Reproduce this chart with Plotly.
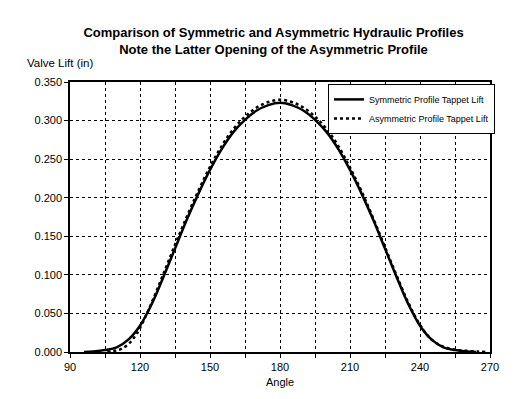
import plotly.graph_objects as go

# Symmetric profile (angle in degrees, lift in inches)
sym_angle = [96, 100, 105, 110, 115, 120, 125, 130, 135, 140, 145, 150, 155, 160, 165, 170, 175, 180,
             185, 190, 195, 200, 205, 210, 215, 220, 225, 230, 235, 240, 245, 250, 255, 260, 264]
sym_lift = [0.0, 0.0007, 0.0025, 0.006, 0.016, 0.034, 0.062, 0.097, 0.134, 0.171, 0.205, 0.236, 0.263,
            0.285, 0.301, 0.313, 0.320, 0.323,
            0.320, 0.313, 0.301, 0.285, 0.263, 0.236, 0.205, 0.171, 0.134, 0.097, 0.062, 0.034,
            0.016, 0.006, 0.0025, 0.0007, 0.0]

# Asymmetric profile
asym_angle = [106, 108, 110, 112, 115, 118, 120, 125, 130, 135, 140, 145, 150, 155, 160, 165, 170, 175,
              180, 185, 190, 195, 200, 205, 210, 215, 220, 225, 230, 235, 240, 245, 250, 255, 260, 265, 268]
asym_lift = [0.0, 0.001, 0.002, 0.004, 0.010, 0.021, 0.031, 0.064, 0.101, 0.139, 0.175, 0.209, 0.240,
             0.267, 0.289, 0.305, 0.317, 0.324, 0.327, 0.324, 0.317, 0.305, 0.289, 0.267, 0.239,
             0.208, 0.173, 0.136, 0.099, 0.064, 0.035, 0.016, 0.007, 0.003, 0.0015, 0.0005, 0.0]

x_tickvals = list(range(90, 271, 15))
x_ticktext = [str(v) if (v - 90) % 30 == 0 else "" for v in x_tickvals]
y_tickvals = [0.0, 0.05, 0.10, 0.15, 0.20, 0.25, 0.30, 0.35]

FONT = "Liberation Sans, Arial, sans-serif"

fig = go.Figure()
fig.add_trace(go.Scatter(x=sym_angle, y=sym_lift, mode="lines", line_shape="spline",
                         name="Symmetric Profile Tappet Lift",
                         line=dict(color="black", width=2.5)))
fig.add_trace(go.Scatter(x=asym_angle, y=asym_lift, mode="lines", line_shape="spline",
                         name="Asymmetric Profile Tappet Lift",
                         line=dict(color="black", width=2.5, dash="dot")))

fig.update_layout(
    width=521, height=399,
    margin=dict(l=70, r=31, t=82, b=43),
    paper_bgcolor="white", plot_bgcolor="white",
    font=dict(family=FONT, color="black", size=11),
    title=dict(text="<b>Comparison of Symmetric and Asymmetric Hydraulic Profiles<br>"
                    "Note the Latter Opening of the Asymmetric Profile</b>",
               x=0.525, xanchor="center", y=0.908, yanchor="middle",
               font=dict(size=13, family=FONT, color="black")),
    showlegend=True,
    legend=dict(x=(328 - 70) / 420, y=0.993, xanchor="left", yanchor="top",
                bgcolor="white", bordercolor="black", borderwidth=1,
                font=dict(size=9, family=FONT), tracegroupgap=0,
                itemwidth=30),
    xaxis=dict(range=[90, 270], tickvals=x_tickvals, ticktext=x_ticktext,
               showgrid=True, gridcolor="black", griddash="dot", gridwidth=1,
               showline=True, linecolor="black", linewidth=1.5, mirror=True,
               ticks="outside", ticklen=4, tickcolor="black",
               zeroline=False, title=dict(text="Angle", font=dict(size=11), standoff=6),
               tickfont=dict(size=11)),
    yaxis=dict(range=[0, 0.35], tickvals=y_tickvals, tickformat=".3f",
               showgrid=True, gridcolor="black", griddash="dot", gridwidth=1,
               showline=True, linecolor="black", linewidth=1.5, mirror=True,
               ticks="outside", ticklen=4, tickcolor="black",
               zeroline=False, tickfont=dict(size=11)),
    annotations=[dict(text="Valve Lift (in)", xref="paper", yref="paper",
                      x=(25 - 70) / 420, y=1.04, xanchor="left", yanchor="bottom",
                      showarrow=False, font=dict(size=11.5, family=FONT))],
)

fig.write_html("out.html", config={"displayModeBar": False},
               post_script="document.body.style.margin='0';document.body.style.padding='0';")
